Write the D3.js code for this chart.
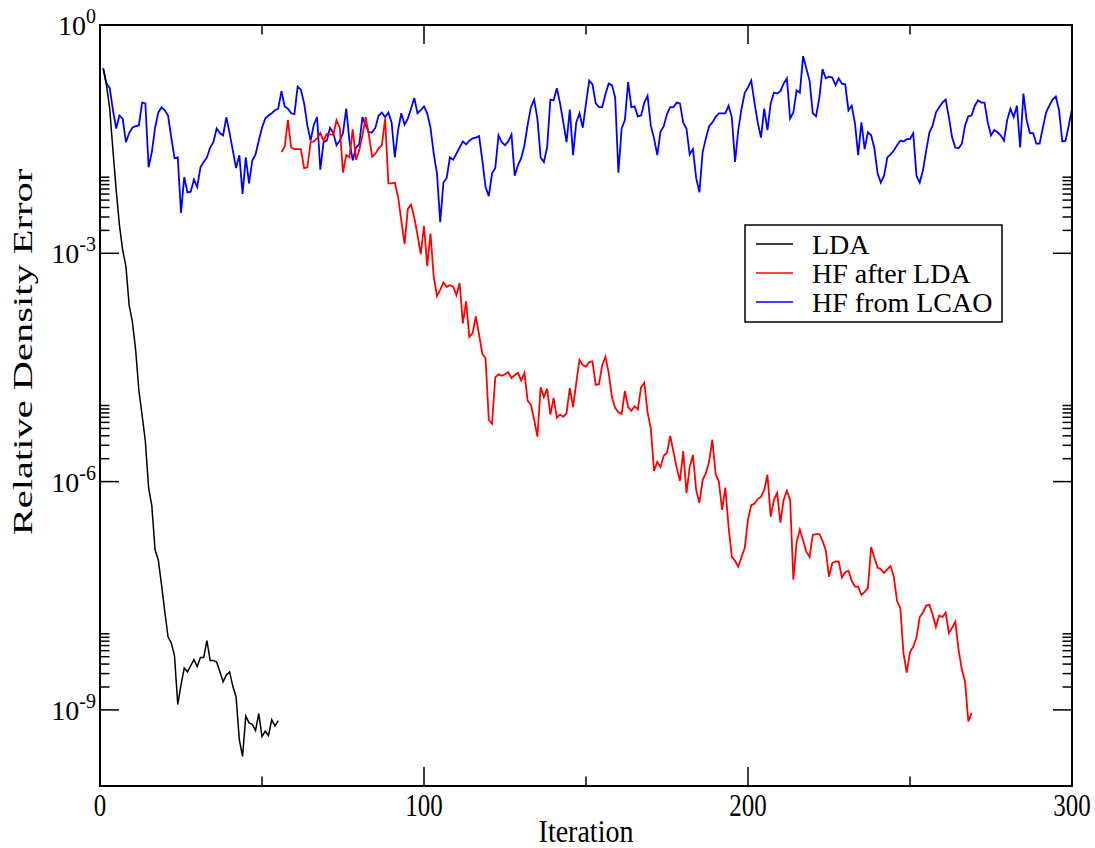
<!DOCTYPE html>
<html>
<head>
<meta charset="utf-8">
<script src="https://cdn.jsdelivr.net/npm/d3@7"></script>
<style>
  body { margin: 0; background: #fff; }
  text { font-family: "Liberation Serif", "Times New Roman", Times, serif; fill: #000; }
</style>
</head>
<body>
<svg id="chart" width="1095" height="848"></svg>
<script>
// Axis ticks
const xMajorTicks = [0, 100, 200, 300];
const xMinorTicks = [50, 150, 250];
const yMajorExponents = [0, -3, -6, -9];
const yMinorMantissas = [2, 3, 4, 5, 6, 7, 8, 9, 10];

// Series: log10 of the relative density error, one value per iteration
const ldaFirstIteration = 1;
const ldaLog10 = [
  -0.57, -0.79, -1.10, -1.65, -2.17, -2.63, -2.96, -3.17, -3.68, -3.90,
  -4.27, -4.80, -5.13, -5.47, -6.08, -6.32, -6.90, -7.03, -7.36, -7.71,
  -8.04, -8.12, -8.29, -8.93, -8.67, -8.45, -8.50, -8.42, -8.34, -8.43,
  -8.31, -8.31, -8.09, -8.35, -8.35, -8.37, -8.50, -8.63, -8.54, -8.50,
  -8.69, -8.83, -9.39, -9.61, -9.08, -9.17, -9.19, -9.27, -9.05, -9.35,
  -9.28, -9.34, -9.13, -9.21, -9.14
];

const hfAfterLdaFirstIteration = 56;
const hfAfterLdaLog10 = [
  -1.67, -1.60, -1.25, -1.61, -1.63, -1.63, -1.63, -1.88, -1.87, -1.54,
  -1.53, -1.49, -1.42, -1.52, -1.43, -1.44, -1.44, -1.25, -1.35, -1.94,
  -1.71, -1.74, -1.37, -1.77, -1.65, -1.45, -1.21, -1.45, -1.73, -1.69,
  -1.62, -1.58, -1.23, -2.08, -2.08, -2.07, -2.26, -2.57, -2.88, -2.42,
  -2.36, -2.53, -2.76, -3.01, -2.64, -3.17, -2.74, -3.31, -3.56, -3.48,
  -3.38, -3.44, -3.42, -3.44, -3.55, -3.39, -3.92, -3.63, -4.10, -4.05,
  -3.83, -4.07, -4.32, -4.38, -5.19, -5.24, -4.63, -4.59, -4.61, -4.59,
  -4.56, -4.64, -4.60, -4.57, -4.67, -4.57, -4.94, -4.99, -5.19, -5.41,
  -4.76, -4.89, -4.78, -5.12, -4.90, -5.16, -5.12, -5.15, -5.10, -4.77,
  -5.02, -4.70, -4.40, -4.47, -4.49, -4.43, -4.42, -4.73, -4.72, -4.47,
  -4.36, -4.57, -4.89, -5.03, -5.09, -5.11, -4.81, -5.02, -5.07, -5.01,
  -5.05, -4.76, -4.70, -5.09, -5.30, -5.86, -5.74, -5.81, -5.66, -5.62,
  -5.40, -5.61, -5.82, -5.99, -5.60, -6.15, -5.81, -5.65, -6.11, -6.28,
  -5.98, -5.89, -5.74, -5.45, -5.90, -6.00, -6.37, -6.08, -6.59, -6.99,
  -7.04, -7.12, -6.99, -6.87, -6.50, -6.31, -6.29, -6.23, -6.20, -6.11,
  -5.91, -6.46, -6.24, -6.15, -6.54, -6.24, -6.12, -6.24, -7.29, -6.80,
  -6.63, -6.77, -6.92, -6.99, -6.70, -6.69, -6.69, -6.78, -6.90, -7.25,
  -7.07, -7.05, -7.05, -7.26, -7.19, -7.17, -7.30, -7.38, -7.38, -7.49,
  -7.45, -7.40, -6.86, -7.00, -7.13, -7.15, -7.20, -7.15, -7.11, -7.25,
  -7.57, -7.66, -8.26, -8.51, -8.24, -8.17, -8.05, -7.78, -7.72, -7.63,
  -7.62, -7.75, -7.91, -7.76, -7.78, -7.72, -7.99, -7.92, -7.84, -8.21,
  -8.47, -8.63, -9.15, -9.04
];

const hfFromLcaoFirstIteration = 1;
const hfFromLcaoLog10 = [
  -0.57, -0.77, -0.83, -1.12, -1.36, -1.19, -1.23, -1.54, -1.42, -1.35,
  -1.33, -1.32, -1.02, -1.03, -1.87, -1.67, -1.35, -1.15, -1.08, -1.12,
  -1.19, -1.48, -1.75, -1.74, -2.47, -2.00, -2.20, -2.19, -2.03, -2.13,
  -1.87, -1.80, -1.74, -1.61, -1.54, -1.36, -1.42, -1.45, -1.21, -1.42,
  -1.65, -1.88, -1.71, -2.22, -1.74, -2.08, -1.78, -1.70, -1.52, -1.35,
  -1.23, -1.19, -1.16, -1.12, -1.10, -0.87, -1.07, -1.10, -1.16, -1.17,
  -0.81, -0.85, -1.03, -1.32, -1.52, -1.31, -1.21, -1.90, -1.54, -1.52,
  -1.35, -1.42, -1.58, -1.52, -1.42, -1.10, -1.53, -1.78, -1.61, -1.57,
  -1.21, -1.32, -1.41, -1.41, -1.35, -1.19, -1.15, -1.21, -1.15, -1.28,
  -1.74, -1.38, -1.16, -1.31, -1.23, -1.10, -0.96, -1.16, -1.12, -1.07,
  -1.16, -1.35, -1.69, -1.95, -2.59, -2.07, -2.01, -1.74, -1.77, -1.69,
  -1.61, -1.53, -1.57, -1.52, -1.49, -1.48, -1.46, -1.78, -2.13, -2.25,
  -1.95, -1.88, -1.45, -1.54, -1.58, -1.53, -1.44, -1.98, -1.84, -1.75,
  -1.58, -1.31, -1.08, -0.98, -1.23, -1.74, -1.80, -1.61, -0.98, -0.99,
  -0.83, -1.03, -1.28, -1.54, -1.11, -1.71, -1.28, -1.16, -1.35, -1.03,
  -0.73, -0.78, -1.03, -1.08, -1.08, -0.91, -0.77, -0.79, -0.95, -1.94,
  -1.36, -1.25, -0.75, -1.08, -1.07, -1.20, -1.19, -1.02, -0.93, -1.32,
  -1.49, -1.71, -1.40, -1.33, -1.17, -1.08, -1.08, -1.02, -1.03, -1.28,
  -1.36, -1.70, -1.63, -2.01, -2.20, -1.67, -1.49, -1.33, -1.28, -1.21,
  -1.16, -1.16, -1.16, -1.06, -1.21, -1.80, -1.38, -1.10, -0.89, -0.82,
  -0.73, -1.02, -1.28, -1.48, -1.10, -1.38, -1.03, -0.89, -0.90, -0.87,
  -0.77, -0.70, -1.23, -1.15, -0.86, -0.89, -0.41, -0.57, -0.73, -1.16,
  -1.20, -0.96, -0.58, -0.70, -0.68, -0.69, -0.79, -0.70, -0.77, -0.78,
  -1.12, -1.06, -1.29, -1.71, -1.28, -1.63, -1.41, -1.45, -1.62, -1.95,
  -2.07, -1.98, -1.74, -1.70, -1.65, -1.58, -1.52, -1.53, -1.50, -1.50,
  -1.42, -1.98, -2.07, -1.91, -1.65, -1.41, -1.32, -1.15, -1.08, -1.02,
  -0.98, -1.21, -1.48, -1.61, -1.62, -1.56, -1.32, -1.20, -1.19, -1.06,
  -0.99, -1.02, -1.02, -1.28, -1.45, -1.38, -1.41, -1.45, -1.52, -1.25,
  -1.10, -1.21, -1.06, -1.61, -0.90, -1.25, -1.42, -1.42, -1.56, -1.56,
  -1.35, -1.15, -1.06, -0.98, -0.94, -1.12, -1.53, -1.52, -1.32, -1.10
];

const seriesNames = ["LDA", "HF after LDA", "HF from LCAO"];
const seriesColors = ["#000000", "#ff0000", "#0000ff"];

// Chart geometry
const plot = { left: 100, top: 25, right: 1072, bottom: 786 };

const svg = d3.select("#chart");

const x = d3.scaleLinear().domain([0, 300]).range([plot.left, plot.right]);
const y = d3.scaleLog().domain([1e-10, 1]).range([plot.bottom, plot.top]);

function toPoints(first, logs) {
  return logs.map((v, i) => ({ iter: first + i, value: Math.pow(10, v) }));
}

const series = [
  toPoints(ldaFirstIteration, ldaLog10),
  toPoints(hfAfterLdaFirstIteration, hfAfterLdaLog10),
  toPoints(hfFromLcaoFirstIteration, hfFromLcaoLog10)
];

const line = d3.line()
  .x(d => x(d.iter))
  .y(d => y(d.value));

// Data lines (blue drawn first, black on top)
const drawOrder = [2, 1, 0];
svg.append("g").selectAll("path")
  .data(drawOrder)
  .join("path")
  .attr("d", k => line(series[k]))
  .attr("fill", "none")
  .attr("stroke", k => seriesColors[k])
  .attr("stroke-width", k => k === 0 ? 1.5 : 1.8);

// Ticks, pointing into the plot on all four sides
const ticks = svg.append("g").attr("stroke", "#000").attr("stroke-width", 1.5);
const majorLen = 19, minorLen = 9.5;

xMajorTicks.forEach(v => {
  const px = x(v);
  ticks.append("line").attr("x1", px).attr("x2", px).attr("y1", plot.bottom).attr("y2", plot.bottom - majorLen);
  ticks.append("line").attr("x1", px).attr("x2", px).attr("y1", plot.top).attr("y2", plot.top + majorLen);
});
xMinorTicks.forEach(v => {
  const px = x(v);
  ticks.append("line").attr("x1", px).attr("x2", px).attr("y1", plot.bottom).attr("y2", plot.bottom - minorLen);
  ticks.append("line").attr("x1", px).attr("x2", px).attr("y1", plot.top).attr("y2", plot.top + minorLen);
});
yMajorExponents.forEach(e => {
  const py = y(Math.pow(10, e));
  ticks.append("line").attr("x1", plot.left).attr("x2", plot.left + majorLen).attr("y1", py).attr("y2", py);
  ticks.append("line").attr("x1", plot.right).attr("x2", plot.right - majorLen).attr("y1", py).attr("y2", py);
});
yMajorExponents.filter(e => e < 0).forEach(e => {
  yMinorMantissas.forEach(m => {
    const py = y(m * Math.pow(10, e));
    ticks.append("line").attr("x1", plot.left).attr("x2", plot.left + minorLen).attr("y1", py).attr("y2", py);
    ticks.append("line").attr("x1", plot.right).attr("x2", plot.right - minorLen).attr("y1", py).attr("y2", py);
  });
});

// Frame
svg.append("rect")
  .attr("x", plot.left).attr("y", plot.top)
  .attr("width", plot.right - plot.left).attr("height", plot.bottom - plot.top)
  .attr("fill", "none").attr("stroke", "#000").attr("stroke-width", 2);

// X tick labels (tall, narrow glyphs)
svg.append("g").selectAll("text")
  .data(xMajorTicks)
  .join("text")
  .attr("transform", d => `translate(${x(d)}, 816) scale(1, 1.25)`)
  .attr("text-anchor", "middle")
  .attr("font-size", 25)
  .text(d => d);

// Y tick labels as powers of ten
const yLabels = svg.append("g").selectAll("text")
  .data(yMajorExponents)
  .join("text")
  .attr("x", 96)
  .attr("y", e => y(Math.pow(10, e)) + 10)
  .attr("text-anchor", "end")
  .attr("font-size", 28);
yLabels.append("tspan").text("10");
yLabels.append("tspan")
  .attr("dy", -12)
  .attr("font-size", 20)
  .text(e => e === 0 ? "0" : "-" + Math.abs(e));

// Axis titles
svg.append("text")
  .attr("transform", `translate(${(plot.left + plot.right) / 2}, 842) scale(1, 1.15)`)
  .attr("text-anchor", "middle")
  .attr("font-size", 28)
  .text("Iteration");

svg.append("text")
  .attr("transform", `translate(32, 352) rotate(-90) scale(1.5, 1)`)
  .attr("text-anchor", "middle")
  .attr("font-size", 27)
  .text("Relative Density Error");

// Legend
const legend = svg.append("g");
legend.append("rect")
  .attr("x", 745).attr("y", 225).attr("width", 257).attr("height", 97)
  .attr("fill", "#fff").attr("stroke", "#000").attr("stroke-width", 1.5);
const rows = legend.selectAll("g.row")
  .data(seriesNames.map((name, i) => ({ name, color: seriesColors[i], i })))
  .join("g")
  .attr("class", "row")
  .attr("transform", d => `translate(0, ${244 + d.i * 29})`);
rows.append("line")
  .attr("x1", 756).attr("x2", 793).attr("y1", 0).attr("y2", 0)
  .attr("stroke", d => d.color).attr("stroke-width", 1.5);
rows.append("text")
  .attr("x", 812).attr("y", 10)
  .attr("font-size", 28)
  .text(d => d.name);
</script>
</body>
</html>
